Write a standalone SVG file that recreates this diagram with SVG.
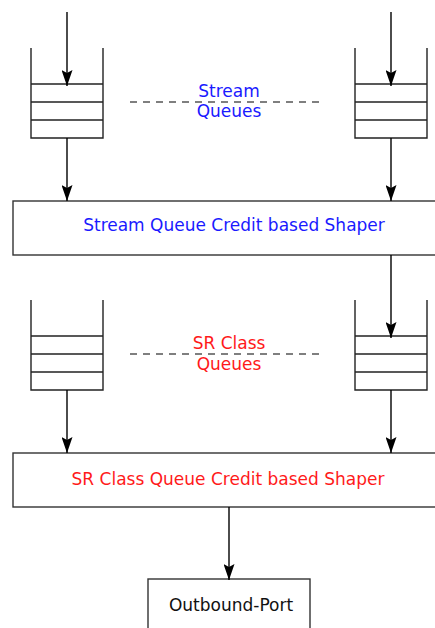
<svg xmlns="http://www.w3.org/2000/svg" width="435" height="628" viewBox="0 0 435 628">
<style>
.q{fill:none;stroke:#222;stroke-width:1.4}
.box{fill:#fff;stroke:#333;stroke-width:1.4}
.c{fill:none;stroke:#000;stroke-width:1.4}
.d{fill:none;stroke:#555;stroke-width:1.4;stroke-dasharray:7 6}
text{font-family:"DejaVu Sans",sans-serif;font-size:17px;text-anchor:middle}
.blue{fill:#1a1aff}
.red{fill:#ff1a1a}
.blk{fill:#111}
</style>
<defs>
<marker id="ah" viewBox="0 0 16 11" refX="16" refY="5.5" markerWidth="16" markerHeight="11" markerUnits="userSpaceOnUse" orient="auto">
<path d="M0,0 L16,5.5 L0,11 L3,5.5 Z" fill="#000"/>
</marker>
</defs>
<g id="sq-left">
<path class="q" d="M31,48 V138 H103 V48 M31,84 H103 M31,102 H103 M31,120 H103"/>
</g>
<g id="sq-right">
<path class="q" d="M355,48 V138 H427 V48 M355,84 H427 M355,102 H427 M355,120 H427"/>
</g>
<g id="stream-label">
<line class="d" x1="130" y1="102" x2="319" y2="102"/>
<text class="blue" x="229" y="97">Stream</text>
<text class="blue" x="229" y="117">Queues</text>
</g>
<g id="stream-shaper">
<rect class="box" x="13" y="201" width="430" height="54"/>
<text class="blue" x="234" y="231">Stream Queue Credit based Shaper</text>
</g>
<g id="sr-left">
<path class="q" d="M31,300 V390 H103 V300 M31,336 H103 M31,354 H103 M31,372 H103"/>
</g>
<g id="sr-right">
<path class="q" d="M355,300 V390 H427 V300 M355,336 H427 M355,354 H427 M355,372 H427"/>
</g>
<g id="sr-label">
<line class="d" x1="130" y1="354" x2="319" y2="354"/>
<text class="red" x="229" y="349">SR Class</text>
<text class="red" x="229" y="370">Queues</text>
</g>
<g id="sr-shaper">
<rect class="box" x="13" y="453" width="430" height="54"/>
<text class="red" x="228" y="485">SR Class Queue Credit based Shaper</text>
</g>
<g id="outbound-port">
<rect class="box" x="148" y="579" width="162" height="60"/>
<text class="blk" x="231" y="611">Outbound-Port</text>
</g>
<g id="connectors">
<line class="c" x1="67" y1="12" x2="67" y2="86" marker-end="url(#ah)"/>
<line class="c" x1="391" y1="12" x2="391" y2="86" marker-end="url(#ah)"/>
<line class="c" x1="67" y1="138" x2="67" y2="201" marker-end="url(#ah)"/>
<line class="c" x1="391" y1="138" x2="391" y2="201" marker-end="url(#ah)"/>
<line class="c" x1="391" y1="255" x2="391" y2="338" marker-end="url(#ah)"/>
<line class="c" x1="67" y1="390" x2="67" y2="453" marker-end="url(#ah)"/>
<line class="c" x1="391" y1="390" x2="391" y2="453" marker-end="url(#ah)"/>
<line class="c" x1="229" y1="507" x2="229" y2="580" marker-end="url(#ah)"/>
</g>
</svg>
